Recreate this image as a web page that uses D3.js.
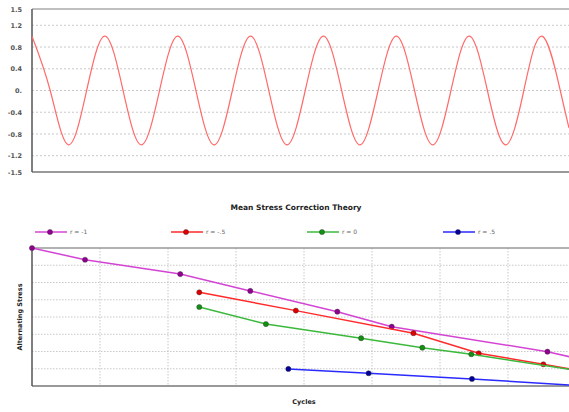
<!DOCTYPE html>
<html>
<head>
<meta charset="utf-8">
<script src="https://cdn.jsdelivr.net/npm/d3@7"></script>
<style>
  body { margin: 0; background: #fff; }
  svg { display: block; font-family: "DejaVu Sans", Verdana, sans-serif; }
</style>
</head>
<body>
<svg id="chart" width="569" height="412"></svg>
<script>
/*################
Data
################*/
// top: loading history, read at quarter cycles
const loadTime = [0, 0.25, 0.5, 0.75, 1, 1.25, 1.5, 1.75, 2, 2.25, 2.5, 2.75, 3, 3.25, 3.5, 3.75,
    4, 4.25, 4.5, 4.75, 5, 5.25, 5.5, 5.75, 6, 6.25, 6.5, 6.75, 7, 7.25, 7.37];
const loadStress = [1, 0, -1, 0, 1, 0, -1, 0, 1, 0, -1, 0, 1, 0, -1, 0,
    1, 0, -1, 0, 1, 0, -1, 0, 1, 0, -1, 0, 1, 0, -0.69];
const loadTicks = [1.5, 1.2, 0.8, 0.4, 0, -0.4, -0.8, -1.2, -1.5];

// bottom: S-N curves
const seriesNames = ['r = -1', 'r = -.5', 'r = 0', 'r = .5'];
const cyclesM1 = [0, 0.78, 2.18, 3.21, 4.49, 5.29, 7.58, 8];
const stressM1 = [8.0, 7.32, 6.49, 5.51, 4.31, 3.44, 1.99, 1.61];
const cyclesM05 = [2.46, 3.88, 5.61, 6.57, 7.52, 8];
const stressM05 = [5.43, 4.37, 3.06, 1.90, 1.26, 0.92];
const cycles0 = [2.46, 3.44, 4.84, 5.74, 6.46, 8];
const stress0 = [4.58, 3.59, 2.77, 2.22, 1.84, 0.91];
const cyclesP05 = [3.77, 4.95, 6.47, 8];
const stressP05 = [0.99, 0.74, 0.41, 0.03];

const lineColors = ['#d444d4', '#ff2a2a', '#3cb93c', '#2a2aff'];
const dotColors = ['#900090', '#e00000', '#139013', '#000099'];

const svg = d3.select('#chart');

/*################
Top chart
################*/
const topBox = { left: 32, right: 569, top: 9, bottom: 172 };
const xTop = d3.scaleLinear().domain([0, 7.37]).range([topBox.left, topBox.right]);
const yTop = d3.scaleLinear().domain([-1.5, 1.5]).range([topBox.bottom, topBox.top]);

const gTop = svg.append('g');

gTop.selectAll('line.grid')
    .data(loadTicks.filter(d => Math.abs(d) < 1.5))
    .enter()
    .append('line')
    .attr('x1', topBox.left).attr('x2', topBox.right)
    .attr('y1', d => yTop(d)).attr('y2', d => yTop(d))
    .attr('stroke', '#c8c8c8')
    .attr('stroke-dasharray', '2,2');

gTop.append('line')
    .attr('x1', topBox.left).attr('x2', topBox.right)
    .attr('y1', topBox.top).attr('y2', topBox.top)
    .attr('stroke', '#aaa').attr('stroke-width', 1.5);
gTop.append('line')
    .attr('x1', topBox.left).attr('x2', topBox.right)
    .attr('y1', topBox.bottom).attr('y2', topBox.bottom)
    .attr('stroke', '#999').attr('stroke-width', 2);
gTop.append('line')
    .attr('x1', topBox.left).attr('x2', topBox.left)
    .attr('y1', topBox.top).attr('y2', topBox.bottom)
    .attr('stroke', '#555').attr('stroke-width', 1.5);

const axisTop = gTop.append('g')
    .attr('transform', `translate(${topBox.left - 7},0)`)
    .call(d3.axisLeft(yTop).tickValues(loadTicks).tickSize(0)
        .tickFormat(d => d === 0 ? '0.' : String(d)));
axisTop.select('.domain').remove();
axisTop.selectAll('text')
    .attr('font-size', 6.5)
    .attr('font-weight', 'bold')
    .attr('fill', '#555')
    .attr('font-family', '"DejaVu Sans", Verdana, sans-serif');

gTop.append('path')
    .datum(loadTime.map((t, i) => [t, loadStress[i]]))
    .attr('fill', 'none')
    .attr('stroke', '#ff6a6a')
    .attr('stroke-width', 1.2)
    .attr('d', d3.line().x(d => xTop(d[0])).y(d => yTop(d[1])).curve(d3.curveNatural));

/*################
Bottom chart
################*/
const botBox = { left: 32, right: 576, top: 248, bottom: 386 };
const xBot = d3.scaleLinear().domain([0, 8]).range([botBox.left, botBox.right]);
const yBot = d3.scaleLinear().domain([0, 8]).range([botBox.bottom, botBox.top]);

svg.append('text')
    .attr('x', 296).attr('y', 210)
    .attr('text-anchor', 'middle')
    .attr('font-size', 7.5)
    .attr('font-weight', 'bold')
    .attr('fill', '#222')
    .text('Mean Stress Correction Theory');

const legend = svg.append('g');
seriesNames.forEach((name, i) => {
    const lx = 35 + i * 136, ly = 232;
    legend.append('line')
        .attr('x1', lx).attr('x2', lx + 32)
        .attr('y1', ly).attr('y2', ly)
        .attr('stroke', lineColors[i]).attr('stroke-width', 1.5);
    legend.append('circle')
        .attr('cx', lx + 15).attr('cy', ly).attr('r', 2.6)
        .attr('fill', dotColors[i]).attr('stroke', '#333').attr('stroke-width', 0.4);
    legend.append('text')
        .attr('x', lx + 35).attr('y', ly + 2.2)
        .attr('font-size', 6)
        .attr('fill', '#666')
        .text(name);
});

const gBot = svg.append('g');

gBot.selectAll('line.hgrid')
    .data(d3.range(1, 8))
    .enter()
    .append('line')
    .attr('x1', botBox.left).attr('x2', botBox.right)
    .attr('y1', d => yBot(d)).attr('y2', d => yBot(d))
    .attr('stroke', '#c8c8c8')
    .attr('stroke-dasharray', '1.5,1.5');
gBot.selectAll('line.vgrid')
    .data(d3.range(1, 8))
    .enter()
    .append('line')
    .attr('x1', d => xBot(d)).attr('x2', d => xBot(d))
    .attr('y1', botBox.top).attr('y2', botBox.bottom)
    .attr('stroke', '#c8c8c8')
    .attr('stroke-dasharray', '1.5,1.5');

gBot.append('line')
    .attr('x1', botBox.left).attr('x2', botBox.right)
    .attr('y1', botBox.top).attr('y2', botBox.top)
    .attr('stroke', '#999').attr('stroke-width', 1.5);
gBot.append('line')
    .attr('x1', botBox.left).attr('x2', botBox.right)
    .attr('y1', botBox.bottom).attr('y2', botBox.bottom)
    .attr('stroke', '#999').attr('stroke-width', 2);
gBot.append('line')
    .attr('x1', botBox.left).attr('x2', botBox.left)
    .attr('y1', botBox.top).attr('y2', botBox.bottom)
    .attr('stroke', '#555').attr('stroke-width', 1.5);

svg.append('text')
    .attr('transform', `translate(22,${(botBox.top + botBox.bottom) / 2}) rotate(-90)`)
    .attr('text-anchor', 'middle')
    .attr('font-size', 6.5)
    .attr('font-weight', 'bold')
    .attr('fill', '#222')
    .text('Alternating Stress');

svg.append('text')
    .attr('x', 304).attr('y', 404)
    .attr('text-anchor', 'middle')
    .attr('font-size', 6.5)
    .attr('font-weight', 'bold')
    .attr('fill', '#222')
    .text('Cycles');

const series = [
    [cyclesM1, stressM1],
    [cyclesM05, stressM05],
    [cycles0, stress0],
    [cyclesP05, stressP05]
].map(([xs, ys]) => xs.map((x, i) => [x, ys[i]]));

const line = d3.line().x(d => xBot(d[0])).y(d => yBot(d[1]));

series.forEach((pts, i) => {
    gBot.append('path')
        .datum(pts)
        .attr('fill', 'none')
        .attr('stroke', lineColors[i])
        .attr('stroke-width', 1.5)
        .attr('d', line);
    // the last point lies past the window edge, so it gets no marker
    gBot.selectAll(`circle.s${i}`)
        .data(pts.slice(0, -1))
        .enter()
        .append('circle')
        .attr('cx', d => xBot(d[0]))
        .attr('cy', d => yBot(d[1]))
        .attr('r', 2.6)
        .attr('fill', dotColors[i])
        .attr('stroke', '#333')
        .attr('stroke-width', 0.4);
});
</script>
</body>
</html>
